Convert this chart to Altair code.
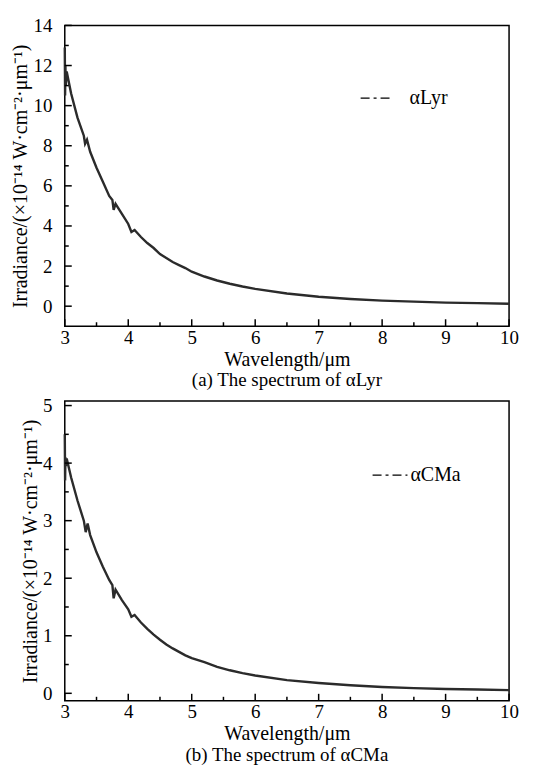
import altair as alt
import pandas as pd

# ---------------- data ----------------
wl_lyr = [3.00, 3.005, 3.01, 3.015, 3.03, 3.1, 3.2, 3.3, 3.32, 3.35, 3.4, 3.5, 3.6, 3.7,
          3.75, 3.77, 3.8, 3.9, 4.0, 4.05, 4.1, 4.2, 4.3, 4.4, 4.5, 4.6, 4.7, 4.8, 4.9,
          5.0, 5.2, 5.4, 5.6, 5.8, 6.0, 6.5, 7.0, 7.5, 8.0, 8.5, 9.0, 9.5, 10.0]
irr_lyr = [12.9, 10.5, 12.0, 11.0, 11.7, 10.6, 9.4, 8.5, 8.1, 8.3, 7.7, 6.9, 6.2, 5.5,
           5.3, 4.8, 5.1, 4.6, 4.1, 3.7, 3.8, 3.45, 3.15, 2.9, 2.6, 2.4, 2.2, 2.05, 1.9,
           1.72, 1.48, 1.28, 1.12, 0.98, 0.86, 0.63, 0.47, 0.36, 0.28, 0.23, 0.18, 0.15, 0.12]

wl_cma = [3.00, 3.005, 3.01, 3.015, 3.03, 3.1, 3.2, 3.3, 3.33, 3.36, 3.4, 3.5, 3.6, 3.7,
          3.75, 3.77, 3.8, 3.9, 4.0, 4.05, 4.1, 4.2, 4.3, 4.4, 4.5, 4.6, 4.7, 4.8, 4.9,
          5.0, 5.2, 5.4, 5.6, 5.8, 6.0, 6.5, 7.0, 7.5, 8.0, 8.5, 9.0, 9.5, 10.0]
irr_cma = [4.5, 3.7, 4.1, 3.95, 4.08, 3.75, 3.35, 3.0, 2.8, 2.95, 2.75, 2.45, 2.2, 1.97,
           1.88, 1.65, 1.8, 1.62, 1.46, 1.33, 1.36, 1.23, 1.12, 1.02, 0.93, 0.85, 0.78, 0.72, 0.66,
           0.61, 0.54, 0.46, 0.40, 0.35, 0.31, 0.23, 0.18, 0.14, 0.11, 0.09, 0.075, 0.065, 0.055]

x_major = [3, 4, 5, 6, 7, 8, 9, 10]
x_minor = [3.5, 4.5, 5.5, 6.5, 7.5, 8.5, 9.5]
y_major_a = [0, 2, 4, 6, 8, 10, 12, 14]
y_minor_a = [1, 3, 5, 7, 9, 11, 13]
y_major_b = [0, 1, 2, 3, 4, 5]
y_minor_b = [0.5, 1.5, 2.5, 3.5, 4.5]

FONT = "Liberation Serif"
W = 446
YTITLE = "Irradiance/(×10⁻¹⁴ W·cm⁻²·μm⁻¹)"


def panel(wl, vals, name, ydom, ymaj, ymin, height, caption, legx, legy, symsize, laboff):
    df = pd.DataFrame({"wl": wl, "irr": vals, "series": name})
    xs = alt.Scale(domain=[3, 10], nice=False)
    ys = alt.Scale(domain=ydom, nice=False, zero=False)
    xax = alt.Axis(values=x_major, ticks=False, domain=False, grid=False,
                   title="Wavelength/μm", labelPadding=2, titlePadding=2,
                   format="d", labelFlush=False)
    yax = alt.Axis(values=ymaj, ticks=False, domain=False, grid=False,
                   title=YTITLE, labelPadding=13, titlePadding=2, format="d")
    line = alt.Chart(df).mark_line(color="#2b2b2b", strokeWidth=2.4).encode(
        x=alt.X("wl:Q", scale=xs, axis=xax, title="Wavelength/μm"),
        y=alt.Y("irr:Q", scale=ys, axis=yax, title=YTITLE))
    legend_layer = alt.Chart(df).mark_line(strokeOpacity=0, color="black").encode(
        x=alt.X("wl:Q", scale=xs, axis=xax, title="Wavelength/μm"),
        y=alt.Y("irr:Q", scale=ys, axis=yax, title=YTITLE),
        strokeDash=alt.StrokeDash(
            "series:N", scale=alt.Scale(range=[[9, 4, 3, 4]]),
            legend=alt.Legend(title=None, orient="none", legendX=legx, legendY=legy,
                              symbolType="stroke", symbolStrokeWidth=1.4,
                              symbolSize=symsize, symbolStrokeColor="black",
                              symbolOpacity=1, padding=0,
                              labelFont=FONT, labelFontSize=20, labelColor="black",
                              labelOffset=laboff)))

    def xt(vals_, ln):
        return alt.Chart(pd.DataFrame({"t": vals_})).mark_rule(
            color="black", strokeWidth=1.5).encode(
            x=alt.X("t:Q", scale=xs, axis=xax, title="Wavelength/μm"),
            y=alt.value(height), y2=alt.value(height - ln))

    def yt(vals_, ln):
        return alt.Chart(pd.DataFrame({"t": vals_})).mark_rule(
            color="black", strokeWidth=1.5).encode(
            y=alt.Y("t:Q", scale=ys, axis=yax, title=YTITLE),
            x=alt.value(0), x2=alt.value(ln))

    return alt.layer(line, legend_layer, xt(x_major, 7), xt(x_minor, 4),
                     yt(ymaj, 7), yt(ymin, 4)).properties(
        width=W, height=height,
        title=alt.TitleParams(caption, orient="bottom", font=FONT, fontSize=19,
                              fontWeight="normal", color="black", offset=2))


top = panel(wl_lyr, irr_lyr, "αLyr", [-1, 14], y_major_a, y_minor_a, 302,
            "(a) The spectrum of αLyr", 296, 57, 900, 18)
bot = panel(wl_cma, irr_cma, "αCMa", [-0.13, 5.08], y_major_b, y_minor_b, 301,
            "(b) The spectrum of αCMa", 308, 56, 1225, 2)

chart = alt.vconcat(top, bot, spacing=4).resolve_scale(
    strokeDash="independent", x="independent", y="independent"
).resolve_legend(strokeDash="independent").properties(
    padding={"left": 2, "top": 6, "right": 5, "bottom": 2},
    background="white"
).configure_view(stroke="black", strokeWidth=1.5).configure_axis(
    labelFont=FONT, labelFontSize=19, labelColor="black",
    titleFont=FONT, titleFontSize=20, titleFontWeight="normal", titleColor="black"
)

chart.save("out.html", embed_options={"renderer": "svg", "actions": False})
